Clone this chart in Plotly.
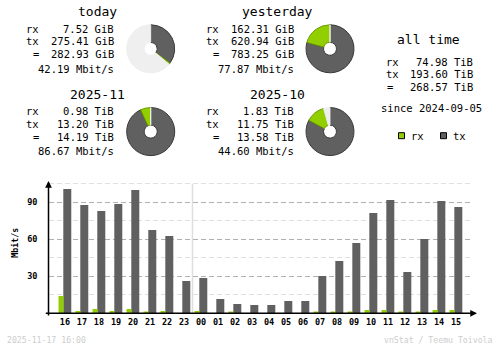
import plotly.graph_objects as go

# ---- summary data ----
today_rx, today_tx, today_total = 7.52, 275.41, 282.93          # GiB
yest_rx, yest_tx, yest_total = 162.31, 620.94, 783.25            # GiB
nov_rx, nov_tx, nov_total = 0.98, 13.20, 14.19                   # TiB
oct_rx, oct_tx, oct_total = 1.83, 11.75, 13.58                   # TiB
all_rx, all_tx, all_total = 74.98, 193.60, 268.57                # TiB
today_rate, yest_rate, nov_rate, oct_rate = 42.19, 77.87, 86.67, 44.60

# ---- hourly data (Mbit/s) ----
hours = ["16", "17", "18", "19", "20", "21", "22", "23", "00", "01", "02", "03",
         "04", "05", "06", "07", "08", "09", "10", "11", "12", "13", "14", "15"]
rx_rate = [14.1, 1.9, 3.5, 1.9, 3.5, 1.1, 1.9, 0.0, 1.9, 0.0, 1.1, 0.0,
           0.0, 0.0, 0.0, 1.1, 1.1, 1.1, 2.7, 2.7, 1.1, 1.1, 2.7, 2.7]
tx_rate = [100.8, 87.8, 83.0, 88.6, 100.0, 67.6, 62.7, 26.2, 28.6, 11.6, 7.6, 6.8,
           6.8, 10.0, 10.0, 30.3, 42.4, 57.0, 81.4, 91.9, 33.5, 60.3, 91.1, 86.2]

RX = "#92CF00"
TX = "#606060"
RXD = "#6E9C00"
TXD = "#3A3A3A"
FREE = "#EFEFEF"
MONO = "DejaVu Sans Mono"
W, H = 500, 348


def px(x):
    return x / W


def py(y):
    return 1 - y / H


fig = go.Figure()

# ---- hourly bars ----
fig.add_trace(go.Bar(x=hours, y=tx_rate, marker_color=TX, width=0.47, offset=-0.1,
                     marker_line_width=0, name="tx"))
fig.add_trace(go.Bar(x=hours, y=rx_rate, marker_color=RX, width=0.29, offset=-0.38,
                     marker_line_width=0, name="rx"))


# ---- donut charts ----
def donut(cx, cy, values, colors, lines):
    r = 24
    fig.add_trace(go.Pie(
        values=values, sort=False, direction="clockwise", rotation=0,
        hole=0.27, textinfo="none", hoverinfo="skip", showlegend=False,
        marker=dict(colors=colors, line=dict(color=lines, width=1)),
        domain=dict(x=[px(cx - r), px(cx + r)], y=[py(cy + r), py(cy - r)]),
    ))


ref_day = max(today_total, yest_total)
ref_month = max(nov_total, oct_total)
donut(150.7, 48.8, [today_tx, today_rx, ref_day - today_total],
      [TX, RX, FREE], [TXD, RXD, FREE])
donut(330.0, 48.8, [yest_tx, yest_rx, ref_day - yest_total],
      [TX, RX, FREE], [TXD, RXD, FREE])
donut(150.7, 131.6, [nov_tx, nov_rx, ref_month - nov_total],
      [TX, RX, FREE], [TXD, RXD, FREE])
donut(330.0, 131.6, [oct_tx, oct_rx, ref_month - oct_total],
      [TX, RX, FREE], [TXD, RXD, FREE])

ann = []


def text(x, y, s, size=10.5, anchor="left", color="#000000", bold=False, angle=0):
    if bold:
        s = "<b>" + s + "</b>"
    ann.append(dict(x=px(x), y=py(y), xref="paper", yref="paper", text=s,
                    showarrow=False, xanchor=anchor, yanchor="middle",
                    textangle=angle,
                    font=dict(family=MONO, size=size, color=color)))


def block(x0, y0, title, rx, tx, total, unit, rate):
    text(x0 + 97.5, y0 + 11.7, title, size=13, anchor="center")
    text(x0 + 24, y0 + 28.8, "rx")
    text(x0 + 24, y0 + 41.2, "tx")
    text(x0 + 35.5, y0 + 54.5, "=", anchor="center")
    text(x0 + 116, y0 + 28.8, f"{rx:.2f} {unit}", anchor="right")
    text(x0 + 116, y0 + 41.2, f"{tx:.2f} {unit}", anchor="right")
    text(x0 + 116, y0 + 54.5, f"{total:.2f} {unit}", anchor="right")
    text(x0 + 116, y0 + 68.8, f"{rate:.2f} Mbit/s", anchor="right")


block(0, 0, "today", today_rx, today_tx, today_total, "GiB", today_rate)
block(180, 0, "yesterday", yest_rx, yest_tx, yest_total, "GiB", yest_rate)
block(0, 82.5, "2025-11", nov_rx, nov_tx, nov_total, "TiB", nov_rate)
block(180, 82.5, "2025-10", oct_rx, oct_tx, oct_total, "TiB", oct_rate)

# all time block
text(428.5, 39.2, "all time", size=13, anchor="center")
text(384, 62.2, "rx")
text(384, 73.8, "tx")
text(390, 87.5, "=", anchor="center")
text(475, 62.2, f"{all_rx:.2f} TiB", anchor="right")
text(475, 73.8, f"{all_tx:.2f} TiB", anchor="right")
text(475, 87.5, f"{all_total:.2f} TiB", anchor="right")
text(378.5, 108, "since 2024-09-05")

# legend
text(408.5, 135.7, "rx")
text(450.5, 135.7, "tx")
shapes = [
    dict(type="rect", xref="paper", yref="paper", x0=px(398.5), x1=px(404.5),
         y0=py(138.7), y1=py(132.7), fillcolor=RX, line=dict(color="#000000", width=1)),
    dict(type="rect", xref="paper", yref="paper", x0=px(440.5), x1=px(446.5),
         y0=py(138.7), y1=py(132.7), fillcolor=TX, line=dict(color="#000000", width=1)),
]

# axis labels / footer
text(14.7, 243, "Mbit/s", size=8.3, anchor="center", bold=True, angle=-90)
text(5, 340, "2025-11-17 16:00", size=8.2, color="#CDCDCD")
text(495, 340, "vnStat / Teemu Toivola", size=8.2, anchor="right", color="#CDCDCD")

# day separator
shapes.append(dict(type="line", xref="x", yref="y", x0=7.5, x1=7.5, y0=0, y1=104.8,
                   line=dict(color="#DEDEDE", width=1.5), layer="below"))

# axis lines with arrow heads
base_y = py(313.3)
ann.append(dict(x=px(477), y=base_y, xref="paper", yref="paper", ax=-432.7, ay=0,
                axref="pixel", ayref="pixel", text="", showarrow=True,
                arrowhead=2, arrowsize=0.9, arrowwidth=1.5, arrowcolor="#000000"))
ann.append(dict(x=px(48.5), y=py(181), xref="paper", yref="paper", ax=0, ay=136,
                axref="pixel", ayref="pixel", text="", showarrow=True,
                arrowhead=2, arrowsize=0.9, arrowwidth=1.5, arrowcolor="#000000"))

y_top = 106.0
fig.update_layout(
    width=W, height=H, margin=dict(l=0, r=0, t=0, b=0),
    paper_bgcolor="#FFFFFF", plot_bgcolor="#FFFFFF",
    barmode="overlay", showlegend=False,
    annotations=ann, shapes=shapes,
    xaxis=dict(type="category", domain=[px(48.5), px(473)],
               range=[-0.97, 23 + (473 - 456) / 17.03],
               showgrid=False, zeroline=False, showline=False, ticks="",
               tickfont=dict(family=MONO, size=8.5, color="#000000"),
               ticklabelstandoff=2),
    yaxis=dict(domain=[py(313.3), py(313.3 - y_top * 37 / 30)],
               range=[0, y_top], dtick=30, tick0=0,
               showgrid=True, gridcolor="#B0B0B0", griddash="5px,3px", gridwidth=1,
               minor=dict(dtick=15, showgrid=True, gridcolor="#E0E0E0",
                          griddash="5px,3px", gridwidth=1),
               zeroline=False, showline=False, ticks="",
               tickfont=dict(family=MONO, size=8.5, color="#000000"),
               ticklabelstandoff=10,
               tickvals=[30, 60, 90], ticktext=["<b>30</b>", "<b>60</b>", "<b>90</b>"]),
)
fig.update_xaxes(tickvals=hours, ticktext=[f"<b>{h}</b>" for h in hours])

fig.write_html("out.html")
